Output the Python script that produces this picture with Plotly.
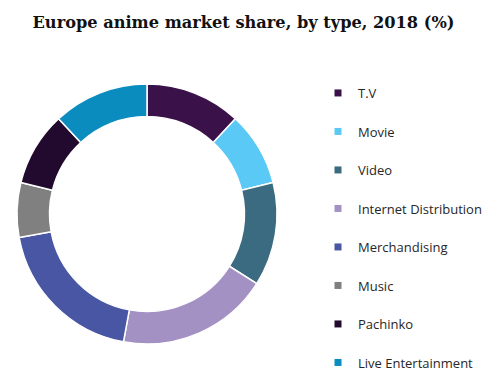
import plotly.graph_objects as go

categories = ["T.V", "Movie", "Video", "Internet Distribution", "Merchandising",
              "Music", "Pachinko", "Live Entertainment"]
shares = [11.9, 9.2, 12.9, 18.9, 19.2, 6.8, 9.2, 11.9]
colors = ["#3A1249", "#5BC9F5", "#3A6B80", "#A391C4", "#4856A3",
          "#808080", "#22092E", "#0B8CBF"]

W, H = 487, 379
cx, cy, r = 147, 214, 130

fig = go.Figure()
fig.add_trace(go.Pie(
    labels=categories, values=shares, sort=False, direction="clockwise",
    rotation=0, hole=0.75, textinfo="none", hoverinfo="label+percent",
    marker=dict(colors=colors, line=dict(color="white", width=1.5)),
    domain=dict(x=[(cx - r) / W, (cx + r) / W],
                y=[(H - cy - r) / H, (H - cy + r) / H]),
    showlegend=False,
))
for c, col in zip(categories, colors):
    fig.add_trace(go.Scatter(
        x=[None], y=[None], mode="markers", name=c, legendgroup=c,
        marker=dict(symbol="square", size=7, color=col),
    ))

fig.update_layout(
    width=W, height=H,
    margin=dict(l=0, r=0, t=0, b=0, autoexpand=False),
    paper_bgcolor="white", plot_bgcolor="white",
    xaxis=dict(visible=False), yaxis=dict(visible=False),
    title=dict(text="<b>Europe anime market share, by type, 2018 (%)</b>",
               x=0.5, xanchor="center", y=1 - 22 / H, yanchor="middle",
               font=dict(family="DejaVu Serif", size=16.2, color="#111111")),
    legend=dict(x=318 / W, xanchor="left", y=1 - 78 / H, yanchor="top",
                font=dict(family="Open Sans", size=13, color="#262626"),
                tracegroupgap=18.6, itemclick=False, bgcolor="rgba(0,0,0,0)"),
)
fig.write_html("out.html", config={"displayModeBar": False},
               post_script="document.body.style.margin='0';")
